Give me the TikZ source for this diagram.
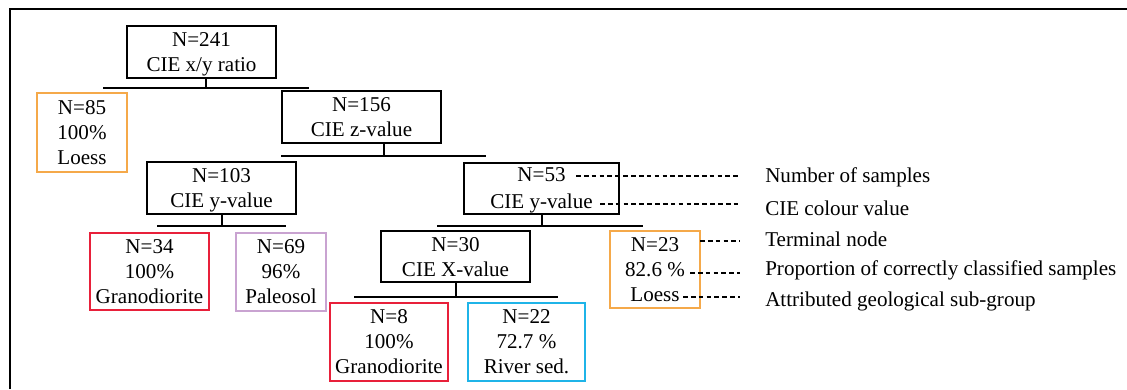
\documentclass[tikz,border=0pt]{standalone}
\usepackage{fontspec}
\setmainfont{Liberation Serif}
\definecolor{loesscol}{HTML}{F5A94A}
\definecolor{granocol}{HTML}{E8203A}
\definecolor{paleocol}{HTML}{C9A3D1}
\definecolor{rivercol}{HTML}{1FB4E8}
\tikzset{
  split/.style={draw=black, line width=1.5pt, inner sep=0pt, align=center,
    text depth=0pt, font=\fontsize{15.8}{18.75}\selectfont},
  leaf/.style={draw, line width=1.4pt, inner sep=0pt, align=center,
    font=\fontsize{15.8}{18.75}\selectfont},
  bar/.style={line width=1.5pt},
  legtext/.style={anchor=west, inner sep=0pt, font=\fontsize{15.8}{18.75}\selectfont},
  legdash/.style={line width=1pt, dash pattern=on 3.5pt off 2.4pt, shorten >=18.75pt}
}
\begin{document}
\begin{tikzpicture}[x=0.75pt,y=-0.75pt]
      \useasboundingbox (0,0) rectangle (1127,389);
      % frame
      \draw[line width=1pt] (10,389) -- (10,9) -- (1127,9);
      % split nodes
      \draw
        (201.5,52) node[split, minimum width=111.75pt, minimum height=39pt] (root){N=241\\CIE x/y ratio}
        (361.5,117) node[split, minimum width=119.25pt, minimum height=39pt] (n156){N=156\\CIE z-value}
        (221.5,188) node[split, minimum width=111.75pt, minimum height=39pt] (n103){N=103\\CIE y-value}
        (541.5,188) node[split, minimum width=116.25pt, minimum height=38.25pt] (n53){N=53\\[2pt]CIE y-value}
        (455.5,256.5) node[split, minimum width=111.75pt, minimum height=38.25pt] (n30){N=30\\CIE X-value};
      % terminal nodes
      \draw
        (82,132.5) node[leaf, draw=loesscol, minimum width=67.5pt, minimum height=59.25pt] (n85){N=85\\100\%\\Loess}
        (149.5,271.5) node[leaf, draw=granocol, minimum width=89.25pt, minimum height=57.75pt] (n34){N=34\\100\%\\Granodiorite}
        (281,272) node[leaf, draw=paleocol, minimum width=67.5pt, minimum height=58.5pt] (n69){N=69\\96\%\\Paleosol}
        (655,269.5) node[leaf, draw=loesscol, minimum width=67.5pt, minimum height=57.75pt] (n23){N=23\\82.6 \%\\Loess}
        (389,342) node[leaf, draw=granocol, minimum width=88.5pt, minimum height=58.5pt] (n8){N=8\\100\%\\Granodiorite}
        (526.5,342) node[leaf, draw=rivercol, minimum width=87.75pt, minimum height=58.5pt] (n22){N=22\\72.7 \%\\River sed.};
      % bar ends
      \coordinate (b1l) at (103,88);  \coordinate (b1r) at (309,88);
      \coordinate (b2l) at (281,156); \coordinate (b2r) at (486,156);
      \coordinate (b3l) at (157,226); \coordinate (b3r) at (286,226);
      \coordinate (b4l) at (437,226); \coordinate (b4r) at (643,226);
      \coordinate (b5l) at (354,297); \coordinate (b5r) at (558,297);
      \begin{scope}[bar]
        \draw ([xshift=3.4pt]root.south) -- ([xshift=3.4pt]root.south |- b1l);
        \draw (b1l) -- (b1r);
        \draw ([xshift=16.9pt]n156.south) -- ([xshift=16.9pt]n156.south |- b2l);
        \draw (b2l) -- (b2r);
        \draw (n103.south) -- (n103.south |- b3l);
        \draw (b3l) -- (b3r);
        \draw (n53.south) -- (n53.south |- b4l);
        \draw (b4l) -- (b4r);
        \draw (n30.south) -- (n30.south |- b5l);
        \draw (b5l) -- (b5r);
      \end{scope}
      % legend
      \draw
        (765,177) node[legtext] (lg1){Number of samples}
        (765,208) node[legtext] (lg2){CIE colour value}
        (765,239) node[legtext] (lg3){Terminal node}
        (765,270) node[legtext] (lg4){Proportion of correctly classified samples}
        (765,301) node[legtext] (lg5){Attributed geological sub-group};
      \coordinate (d1) at (576,176);
      \coordinate (d2) at (600,204);
      \coordinate (d3) at (700,241);
      \coordinate (d4) at (690,273);
      \coordinate (d5) at (683,297);
      \begin{scope}[legdash]
        \draw (d1) -- (d1 -| lg1.west);
        \draw (d2) -- (d2 -| lg2.west);
        \draw (d3) -- (d3 -| lg3.west);
        \draw (d4) -- (d4 -| lg4.west);
        \draw (d5) -- (d5 -| lg5.west);
      \end{scope}
    \end{tikzpicture}
\end{document}
